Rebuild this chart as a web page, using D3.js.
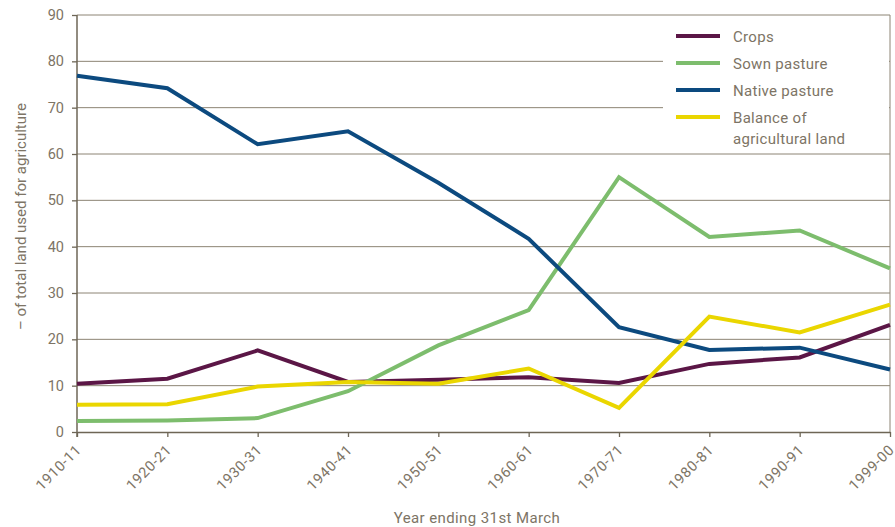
<!DOCTYPE html>
<html>
<head>
<meta charset="utf-8">
<script src="https://cdn.jsdelivr.net/npm/d3@7"></script>
<style>
  body { margin: 0; background: #fff; }
  text { font-family: "Roboto", "DejaVu Sans", sans-serif; fill: #7d7465; }
</style>
</head>
<body>
<svg id="chart"></svg>
<script>
// data
const years = ["1910-11", "1920-21", "1930-31", "1940-41", "1950-51", "1960-61", "1970-71", "1980-81", "1990-91", "1999-00"];
const crops = [10.4, 11.5, 17.6, 10.8, 11.3, 11.8, 10.6, 14.7, 16.1, 23.1];
const sownPasture = [2.4, 2.5, 3.0, 8.8, 18.7, 26.3, 55.0, 42.1, 43.5, 35.3];
const nativePasture = [76.9, 74.2, 62.1, 64.9, 53.8, 41.7, 22.6, 17.7, 18.2, 13.5];
const balance = [5.9, 6.0, 9.8, 10.8, 10.4, 13.7, 5.2, 24.9, 21.5, 27.5];
const yTicks = [0, 10, 20, 30, 40, 50, 60, 70, 80, 90];

const series = [
  { name: ["Crops"], values: crops, color: "#5b1646" },
  { name: ["Sown pasture"], values: sownPasture, color: "#7dbd6d" },
  { name: ["Native pasture"], values: nativePasture, color: "#0c4a7f" },
  { name: ["Balance of", "agricultural land"], values: balance, color: "#ead600" }
];

const width = 895, height = 527;
const margin = { top: 15, right: 5, bottom: 95, left: 77 };
const gridColor = "#8c8474";

const svg = d3.select("#chart").attr("width", width).attr("height", height);

const x = d3.scalePoint()
  .domain(years)
  .range([margin.left, width - margin.right]);

const y = d3.scaleLinear()
  .domain([0, 90])
  .range([height - margin.bottom, margin.top]);

// gridlines
svg.append("g")
  .selectAll("line")
  .data(yTicks.filter(d => d > 0))
  .join("line")
  .attr("x1", margin.left)
  .attr("x2", width - margin.right)
  .attr("y1", d => y(d))
  .attr("y2", d => y(d))
  .attr("stroke", gridColor)
  .attr("stroke-width", 1);

// right frame
svg.append("line")
  .attr("x1", width - margin.right).attr("x2", width - margin.right)
  .attr("y1", y(90)).attr("y2", y(0))
  .attr("stroke", gridColor);

// legend background covers the gridlines
const lg = svg.append("g");
lg.append("rect")
  .attr("x", 663).attr("y", y(90) + 1)
  .attr("width", width - margin.right - 664).attr("height", 134)
  .attr("fill", "#fff");

// axes
const yAxis = svg.append("g")
  .attr("transform", `translate(${margin.left},0)`)
  .call(d3.axisLeft(y).tickValues(yTicks).tickSize(5).tickPadding(8));

const xAxis = svg.append("g")
  .attr("transform", `translate(0,${y(0)})`)
  .call(d3.axisBottom(x).tickSize(5).tickSizeOuter(0));

[yAxis, xAxis].forEach(a => {
  a.select(".domain").attr("stroke", "#6e6656").attr("stroke-width", 1.5);
  a.selectAll(".tick line").attr("stroke", "#6e6656").attr("stroke-width", 1.3);
  a.selectAll("text").style("font-size", "14.5px").attr("fill", "#7d7465");
});
yAxis.select(".domain").attr("d", `M0,${y(90)}V${y(0) + 5}`);

xAxis.selectAll("text")
  .attr("text-anchor", "end")
  .attr("dx", "-0.1em")
  .attr("dy", "0.3em")
  .attr("transform", "translate(-3,9) rotate(-45)")
  .style("font-size", "14.5px")
  .style("letter-spacing", "0.6px");

// lines
const line = d3.line()
  .x((d, i) => x(years[i]))
  .y(d => y(d));

svg.append("g")
  .selectAll("path")
  .data(series)
  .join("path")
  .attr("d", d => line(d.values))
  .attr("fill", "none")
  .attr("stroke", d => d.color)
  .attr("stroke-width", 4)
  .attr("stroke-linejoin", "miter");

// legend entries
const item = lg.selectAll("g.item")
  .data(series)
  .join("g")
  .attr("class", "item")
  .attr("transform", (d, i) => `translate(676,${36 + i * 27})`);

item.append("line")
  .attr("x1", 0).attr("x2", 44)
  .attr("stroke", d => d.color)
  .attr("stroke-width", 4);

item.append("text")
  .attr("x", 57)
  .attr("y", 6)
  .style("font-size", "15px")
  .style("letter-spacing", "0.3px")
  .selectAll("tspan")
  .data(d => d.name)
  .join("tspan")
  .attr("x", 57)
  .attr("dy", (d, i) => i === 0 ? 0 : 21)
  .text(d => d);

// axis titles
svg.append("text")
  .attr("transform", "translate(26,330) rotate(-90)")
  .attr("text-anchor", "start")
  .style("font-size", "15px")
  .text("– of total land used for agriculture");

svg.append("text")
  .attr("x", 477)
  .attr("y", 523)
  .attr("text-anchor", "middle")
  .style("font-size", "15px")
  .style("letter-spacing", "0.4px")
  .text("Year ending 31st March");
</script>
</body>
</html>
